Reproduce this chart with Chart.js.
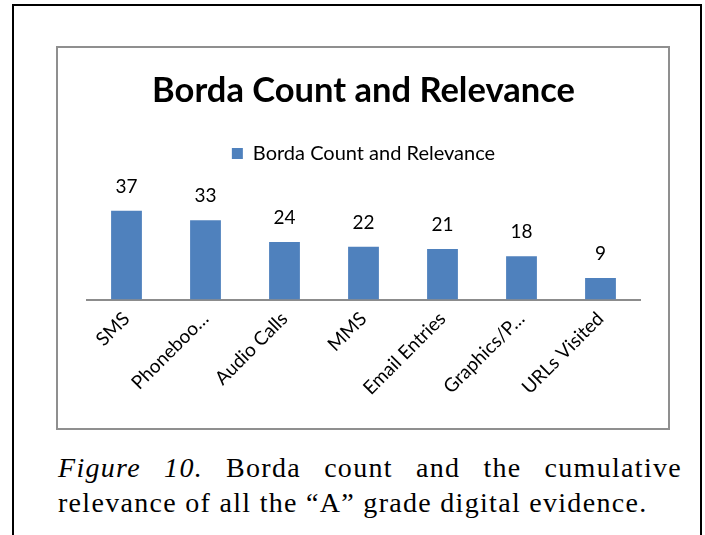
<!DOCTYPE html>
<html>
<head>
<meta charset="utf-8">
<script src="https://cdn.jsdelivr.net/npm/chart.js@4.4.1/dist/chart.umd.min.js"></script>
<style>
  body { margin: 0; background: #fff; width: 705px; height: 535px; overflow: hidden; position: relative; }
  #frame { position: absolute; left: 12px; top: 4px; width: 686px; height: 560px; border: 2px solid #000; border-bottom: none; }
  #box { position: absolute; left: 56px; top: 46px; width: 610px; height: 380px; border: 2px solid #8f8f8f; }
  #box canvas { display: block; }
  .cap { position: absolute; left: 58px; width: 624px; font-family: "Liberation Serif", serif; font-size: 28px; letter-spacing: 1.3px; line-height: 35px; color: #000; white-space: nowrap; }
  #cap1 { top: 450px; text-align: justify; text-align-last: justify; }
  #cap2 { top: 485px; }
</style>
</head>
<body>
<div id="frame"></div>
<div id="box"><canvas id="chart" width="610" height="380"></canvas></div>
<div class="cap" id="cap1"><i>Figure 10.</i> Borda count and the cumulative</div>
<div class="cap" id="cap2">relevance of all the “A” grade digital evidence.</div>
<script>
// datos
const categories = ["SMS", "Phoneboo…", "Audio Calls", "MMS", "Email Entries", "Graphics/P…", "URLs Visited"];
const bordaValues = [37, 33, 24, 22, 21, 18, 9];
const seriesName = "Borda Count and Relevance";
const chartTitle = "Borda Count and Relevance";
const yRange = [0, 40]; // eje Y oculto, solo rango

const barColor = "#4f81bd";
const fontFamily = "Lato, sans-serif";

// etiquetas con el valor encima de cada barra
const valueLabels = {
  id: "valueLabels",
  afterDatasetsDraw(chart) {
    const { ctx } = chart;
    const meta = chart.getDatasetMeta(0);
    ctx.save();
    ctx.font = "19px " + fontFamily;
    ctx.fillStyle = "#000";
    ctx.textAlign = "center";
    ctx.textBaseline = "middle";
    meta.data.forEach((bar, i) => {
      ctx.fillText(chart.data.datasets[0].data[i], bar.x, bar.y - 24);
    });
    ctx.restore();
  },
};

new Chart(document.getElementById("chart"), {
  type: "bar",
  data: {
    labels: categories,
    datasets: [
      {
        label: seriesName,
        data: bordaValues,
        backgroundColor: barColor,
        borderWidth: 0,
        barPercentage: 0.39,
        categoryPercentage: 1,
      },
    ],
  },
  options: {
    responsive: false,
    animation: false,
    layout: { padding: { top: 0, left: 29, right: 28, bottom: 0 } },
    scales: {
      x: {
        grid: { display: false },
        border: { display: true, color: "#8c8c8c", width: 2 },
        ticks: {
          color: "#000",
          font: { family: fontFamily, size: 19 },
          minRotation: 45,
          maxRotation: 45,
          autoSkip: false,
          padding: 0,
        },
        afterFit: (scale) => {
          scale.height = 128.5;
        },
      },
      // eje superior vacío: solo deja hueco entre la leyenda y las barras
      xTop: {
        type: "category",
        position: "top",
        grid: { display: false },
        border: { display: false },
        ticks: { display: false },
        afterFit: (scale) => {
          scale.height = 30;
        },
      },
      y: { display: false, min: yRange[0], max: yRange[1] },
    },
    plugins: {
      title: {
        display: true,
        text: chartTitle,
        color: "#000",
        font: { family: fontFamily, size: 34.5, weight: "bold", lineHeight: 1 },
        padding: { top: 26, bottom: 25 },
      },
      legend: {
        position: "top",
        labels: {
          color: "#000",
          font: { family: fontFamily, size: 20 },
          boxWidth: 11,
          boxHeight: 11,
          padding: 10,
        },
      },
      tooltip: { enabled: false },
    },
  },
  plugins: [valueLabels],
});
</script>
</body>
</html>
